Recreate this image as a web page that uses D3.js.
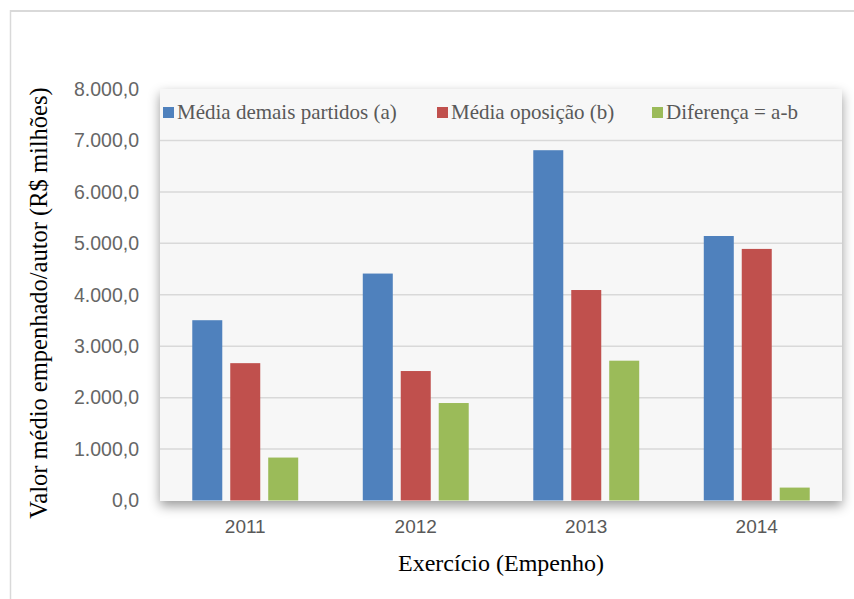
<!DOCTYPE html>
<html>
<head>
<meta charset="utf-8">
<script src="https://cdn.jsdelivr.net/npm/d3@7"></script>
<style>
  html, body { margin: 0; padding: 0; background: #fff; }
  svg { display: block; }
</style>
</head>
<body>
<svg id="chart" width="854" height="599"></svg>
<script>
// Exercício (ano de empenho)
const years = ["2011", "2012", "2013", "2014"];
// Séries (R$ milhões)
const seriesNames = ["Média demais partidos (a)", "Média oposição (b)", "Diferença = a-b"];
const mediaDemais = [3505, 4412, 6810, 5142];
const mediaOposicao = [2670, 2517, 4092, 4891];
const diferenca = [835, 1895, 2718, 251];
const seriesColors = ["#4F81BD", "#C0504D", "#9BBB59"];
const yTicks = [0, 1000, 2000, 3000, 4000, 5000, 6000, 7000, 8000];

const seriesValues = [mediaDemais, mediaOposicao, diferenca];
const rows = years.map((y, i) => ({ year: y, values: seriesValues.map(s => s[i]) }));

const svg = d3.select("#chart");
const plot = { left: 160, right: 842, top: 89, bottom: 501 };

// Frame around the chart area
svg.append("line").attr("x1", 10).attr("x2", 854).attr("y1", 11).attr("y2", 11)
  .attr("stroke", "#D9D9D9").attr("stroke-width", 2);
svg.append("line").attr("x1", 10.5).attr("x2", 10.5).attr("y1", 10).attr("y2", 599)
  .attr("stroke", "#D9D9D9").attr("stroke-width", 1.5);

// Drop shadow for the plot panel
const defs = svg.append("defs");
const f = defs.append("filter").attr("id", "shadow")
  .attr("x", "-10%").attr("y", "-10%").attr("width", "120%").attr("height", "120%");
f.append("feDropShadow").attr("dx", 0).attr("dy", 5).attr("stdDeviation", 6)
  .attr("flood-color", "#000").attr("flood-opacity", 0.4);

svg.append("rect")
  .attr("x", plot.left).attr("y", plot.top)
  .attr("width", plot.right - plot.left).attr("height", plot.bottom - plot.top)
  .attr("fill", "#F7F7F7").attr("filter", "url(#shadow)");

const y = d3.scaleLinear().domain([0, 8000]).range([plot.bottom - 0.5, plot.top]);
const x0 = d3.scaleBand().domain(years).range([plot.left, plot.right]).padding(0);
const x1 = d3.scaleBand().domain(d3.range(seriesNames.length))
  .range([0, x0.bandwidth()]).paddingInner(0.21).paddingOuter(0.85);

// Gridlines
svg.append("g").selectAll("line").data(yTicks.filter(t => t > 0 && t < 8000)).join("line")
  .attr("x1", plot.left).attr("x2", plot.right)
  .attr("y1", d => y(d)).attr("y2", d => y(d))
  .attr("stroke", "#D9D9D9").attr("stroke-width", 1.5);

// Y axis labels
const fmt = v => d3.format(",.1f")(v).replace(/,/g, "#").replace(".", ",").replace(/#/g, ".");
const yAxis = d3.axisLeft(y).tickValues(yTicks).tickSize(0).tickPadding(0).tickFormat(fmt);
const gy = svg.append("g").attr("transform", "translate(139,0)").call(yAxis);
gy.select(".domain").remove();
gy.selectAll("text")
  .attr("font-family", "'Liberation Sans', Arial, sans-serif")
  .attr("font-size", 19.5).attr("fill", "#666");

// Bars
const groups = svg.append("g").selectAll("g").data(rows).join("g")
  .attr("transform", d => `translate(${x0(d.year)},0)`);
groups.selectAll("rect").data(d => d.values.map((v, k) => ({ k, v }))).join("rect")
  .attr("x", d => x1(d.k)).attr("width", x1.bandwidth())
  .attr("y", d => y(d.v)).attr("height", d => y(0) - y(d.v))
  .attr("fill", d => seriesColors[d.k]);

// X axis labels
const xAxis = d3.axisBottom(x0).tickSize(0).tickPadding(0);
const gx = svg.append("g").attr("transform", "translate(0,519)").call(xAxis);
gx.select(".domain").remove();
gx.selectAll("text")
  .attr("font-family", "'Liberation Sans', Arial, sans-serif")
  .attr("font-size", 19).attr("fill", "#595959");

// Legend
const legendItems = [
  { x: 163, name: seriesNames[0], color: seriesColors[0] },
  { x: 437, name: seriesNames[1], color: seriesColors[1] },
  { x: 652, name: seriesNames[2], color: seriesColors[2] }
];
const lg = svg.append("g").selectAll("g").data(legendItems).join("g")
  .attr("transform", d => `translate(${d.x},0)`);
lg.append("rect").attr("x", 0).attr("y", 107).attr("width", 11).attr("height", 11)
  .attr("fill", d => d.color);
lg.append("text").attr("x", 14).attr("y", 119)
  .attr("font-family", "'Liberation Serif', 'Times New Roman', serif")
  .attr("font-size", 21).attr("fill", "#595959")
  .text(d => d.name);

// Axis titles
svg.append("text")
  .attr("transform", "translate(47,303) rotate(-90)")
  .attr("text-anchor", "middle")
  .attr("font-family", "'Liberation Serif', 'Times New Roman', serif")
  .attr("font-size", 24.5).attr("fill", "#000")
  .text("Valor médio empenhado/autor  (R$ milhões)");

svg.append("text")
  .attr("x", 501).attr("y", 571)
  .attr("text-anchor", "middle")
  .attr("font-family", "'Liberation Serif', 'Times New Roman', serif")
  .attr("font-size", 24).attr("fill", "#000")
  .text("Exercício (Empenho)");
</script>
</body>
</html>
